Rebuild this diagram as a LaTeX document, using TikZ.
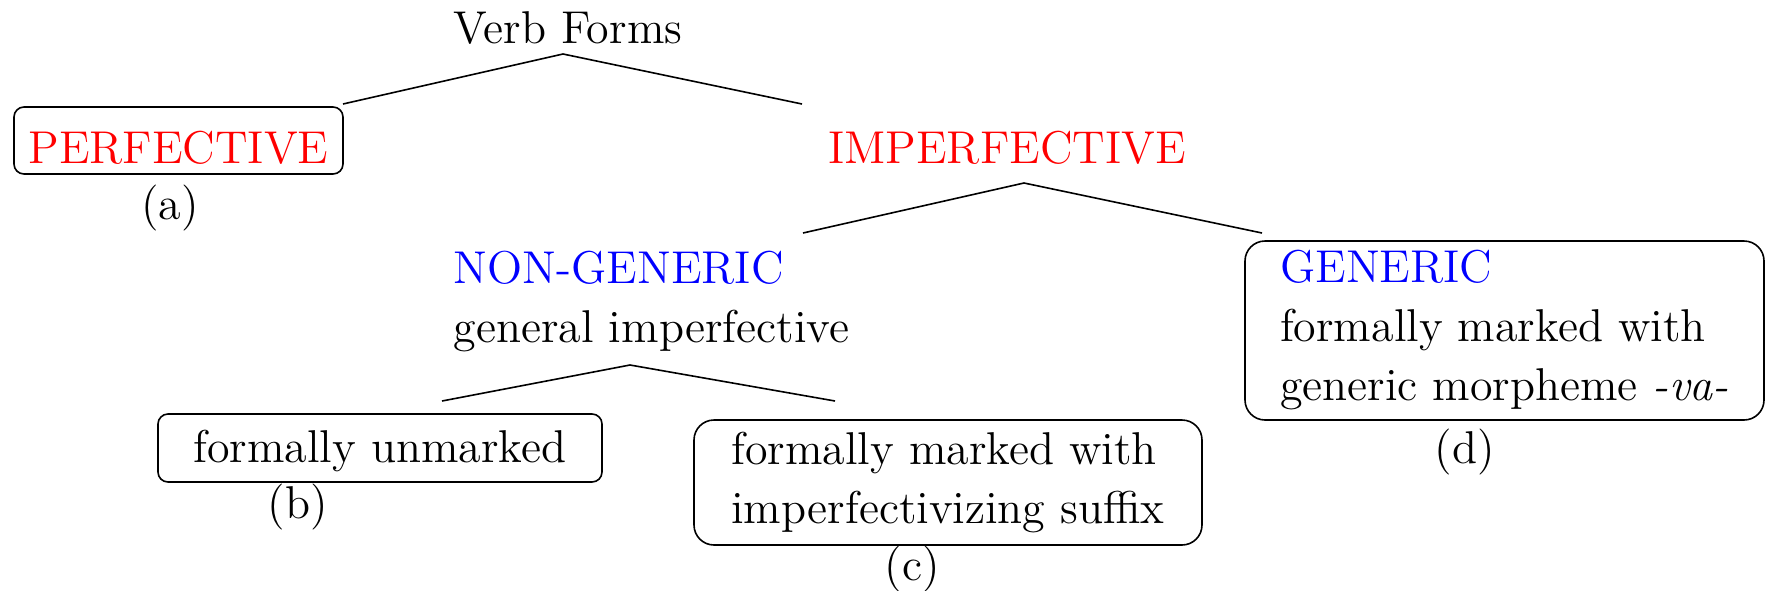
\documentclass[tikz,border=0pt]{standalone}
\usetikzlibrary{positioning}
\tikzset{
    leafbox/.style = {rectangle, draw=black, thin, rounded corners=2.5pt, inner sep=0pt},
    bigbox/.style = {rectangle, draw=black, thin, rounded corners=5pt, align=left, inner sep=0pt},
    plain/.style = {inner sep=0pt},
    catred/.style = {text=red},
    catblue/.style = {text=blue},
    edgen/.style = {line width=0.4pt},
    every picture/.style={font=\fontsize{11.5}{14.75}\selectfont}
}
\begin{document}
\begin{tikzpicture}[x=0.25pt,y=-0.25pt]
\useasboundingbox (0,0) rectangle (1765,590);
%
\node[plain, anchor=base] at (568,43) (root) {Verb Forms};
\node[leafbox, catred, anchor=base, minimum width=82.25pt, text height=14pt, text depth=2.75pt] at (178.5,163) (perf) {PERFECTIVE};
\node[plain, catred, anchor=base] at (1007,163) (impf) {IMPERFECTIVE};
\node[plain, align=left, anchor=base west] at (453,342) (nongen) {\textcolor{blue}{NON-GENERIC}\\general imperfective};
\node[bigbox, minimum width=129.75pt, minimum height=44.75pt] at (1504.5,330.5) (gen) {\textcolor{blue}{GENERIC}\\formally marked with\\generic morpheme \textit{-va-}};
\node[leafbox, anchor=base, minimum width=111pt, text height=12pt, text depth=5pt] at (380,462) (unm) {formally unmarked};
\node[bigbox, minimum width=127pt, minimum height=31.25pt] at (948,482.5) (suff) {formally marked with\\imperfectivizing suffix};
%
\node[plain] at (170,208) (la) {(a)};
\node[plain] at (298,507) (lb) {(b)};
\node[plain] at (912,569) (lc) {(c)};
\node[plain] at (1465,452) (ld) {(d)};
%
\coordinate (root-top) at (563,54);
\coordinate (root-l) at (343,104);
\coordinate (root-r) at (802,104);
\coordinate (impf-top) at (1024,183);
\coordinate (impf-l) at (803,233);
\coordinate (impf-r) at (1262,233);
\coordinate (ng-top) at (630,365);
\coordinate (ng-l) at (442,401);
\coordinate (ng-r) at (835,401);
%
\draw[edgen] (root-l) -- (root-top) -- (root-r);
\draw[edgen] (impf-l) -- (impf-top) -- (impf-r);
\draw[edgen] (ng-l) -- (ng-top) -- (ng-r);
\end{tikzpicture}
\end{document}
